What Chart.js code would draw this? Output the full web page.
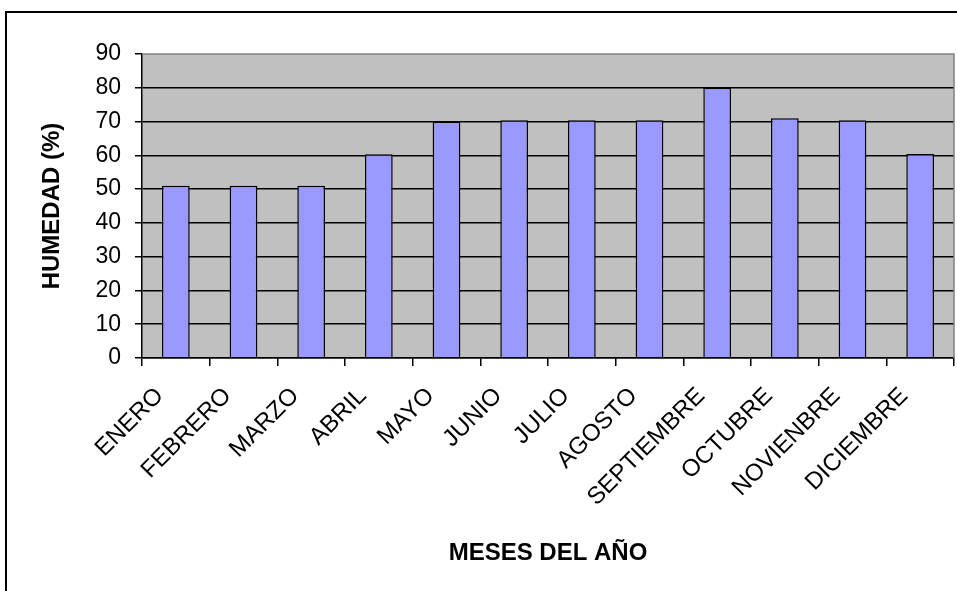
<!DOCTYPE html>
<html>
<head>
<meta charset="utf-8">
<script src="https://cdn.jsdelivr.net/npm/chart.js@4.4.0/dist/chart.umd.min.js"></script>
<style>
  html, body { margin: 0; padding: 0; background: #fff; }
  #wrap { position: relative; width: 957px; height: 591px; overflow: hidden; }
  #frame { position: absolute; left: 5px; top: 11px; width: 1200px; height: 1200px;
           border-top: 2px solid #000; border-left: 2px solid #000; }
  canvas { position: absolute; left: 0; top: 0; }
</style>
</head>
<body>
<div id="wrap">
  <div id="frame"></div>
  <canvas id="c" width="957" height="591"></canvas>
</div>
<script>
// Humedad relativa media mensual
const meses = ['ENERO', 'FEBRERO', 'MARZO', 'ABRIL', 'MAYO', 'JUNIO', 'JULIO',
               'AGOSTO', 'SEPTIEMBRE', 'OCTUBRE', 'NOVIENBRE', 'DICIEMBRE'];
const humedad = [51, 51, 51, 60.3, 70, 70.4, 70.4, 70.4, 80, 71, 70.4, 60.4];
const yMin = 0, yMax = 90, yStep = 10;

const FONT = "'Liberation Sans', Arial, sans-serif";

// grey border on top/right of the plot area
const plotFrame = {
  id: 'plotFrame',
  beforeDatasetsDraw(chart) {
    const { ctx, chartArea: a } = chart;
    ctx.save();
    ctx.strokeStyle = '#808080';
    ctx.lineWidth = 1.5;
    ctx.beginPath();
    ctx.moveTo(a.left, a.top);
    ctx.lineTo(a.right, a.top);
    ctx.lineTo(a.right, a.bottom);
    ctx.stroke();
    ctx.restore();
  }
};

// grey plot background
const plotBg = {
  id: 'plotBg',
  beforeDraw(chart) {
    const { ctx, chartArea: a } = chart;
    ctx.save();
    ctx.fillStyle = '#C0C0C0';
    ctx.fillRect(a.left, a.top, a.right - a.left, a.bottom - a.top);
    ctx.restore();
  }
};

new Chart(document.getElementById('c'), {
  type: 'bar',
  data: {
    labels: meses,
    datasets: [{
      data: humedad,
      backgroundColor: '#9999FF',
      borderColor: '#000',
      borderWidth: 1.5,
      barPercentage: 0.41,
      categoryPercentage: 1
    }]
  },
  options: {
    responsive: false,
    animation: false,
    layout: { padding: { left: 0, top: 54, right: 3, bottom: 0 } },
    plugins: { legend: { display: false }, tooltip: { enabled: false } },
    scales: {
      x: {
        offset: true,
        grid: { display: true, drawOnChartArea: false, color: '#000', lineWidth: 1.5, tickLength: 8, offset: true },
        border: { color: '#000', width: 1.5 },
        ticks: { color: '#000', font: { family: FONT, size: 24 }, minRotation: 45, maxRotation: 45,
                 padding: 16, labelOffset: -16, autoSkip: false },
        title: { display: true, text: 'MESES DEL AÑO', color: '#000',
                 font: { family: FONT, size: 24, weight: 'bold' }, padding: { top: 0, bottom: 23 } },
        afterFit(axis) {
          axis.height = 233;
          axis.paddingLeft = 0;
          axis.paddingRight = 0;
        }
      },
      y: {
        min: yMin, max: yMax,
        ticks: { stepSize: yStep, color: '#000', font: { family: FONT, size: 23 }, padding: 14 },
        grid: {
          color: (c) => (c.tick && c.tick.value === yMax ? 'rgba(0,0,0,0)' : '#000'),
          lineWidth: 1.5, tickLength: 7, tickColor: '#000'
        },
        border: { color: '#000', width: 1.5 },
        title: { display: true, text: 'HUMEDAD (%)', color: '#000',
                 font: { family: FONT, size: 24, weight: 'bold' }, padding: { top: 38, bottom: 0 } },
        afterFit(axis) { axis.width = 142; }
      }
    }
  },
  plugins: [plotBg, plotFrame]
});
</script>
</body>
</html>
